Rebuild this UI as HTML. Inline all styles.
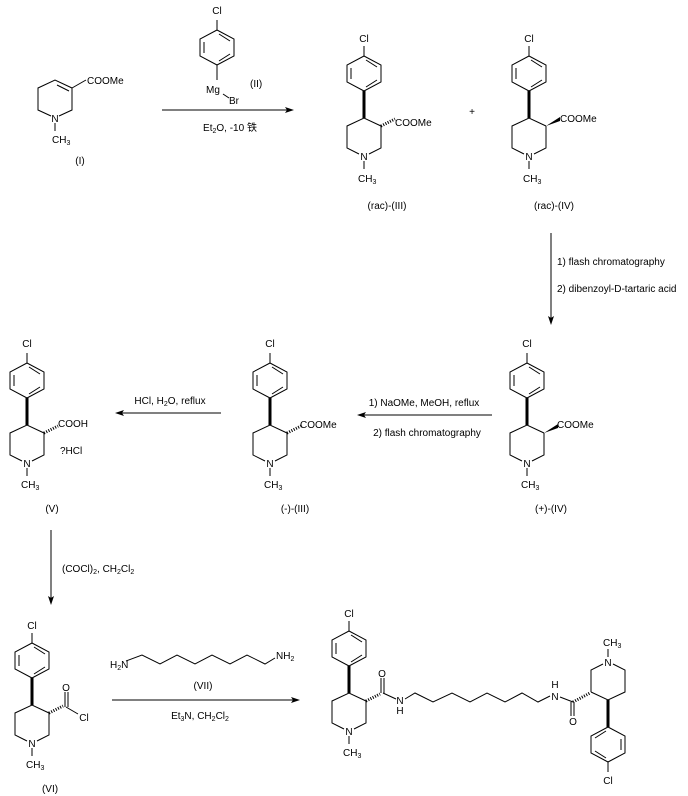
<!DOCTYPE html>
<html><head><meta charset="utf-8"><style>
html,body{margin:0;padding:0;background:#fff;}
svg{display:block;}
text{font-family:"Liberation Sans","Noto Sans CJK SC",sans-serif;font-size:10px;fill:#000;}
.c{text-anchor:middle;}
</style></head><body>
<svg width="688" height="796" viewBox="0 0 688 796" xmlns="http://www.w3.org/2000/svg">
<defs>
<g id="bz" stroke="#000" fill="none" stroke-width="1">
<polygon points="0,-62 17,-53 17,-36 0,-27 -17,-36 -17,-53"/>
<line x1="-13" y1="-50" x2="-13" y2="-39"/>
<line x1="2" y1="-58" x2="13" y2="-51"/>
<line x1="2" y1="-31" x2="13" y2="-38"/>
<line x1="0" y1="-62" x2="0" y2="-72"/>
</g>
<g id="ap" stroke="#000" fill="none" stroke-width="1">
<use href="#bz"/>
<line x1="0" y1="-27" x2="0" y2="0" stroke-width="3"/>
<polyline points="17,8 0,0 -17,8 -17,30 -5,36"/>
<polyline points="17,8 17,30 5,36"/>
<line x1="0" y1="43" x2="0" y2="51"/>
</g>
<g id="hash" stroke="#000" stroke-width="3" stroke-dasharray="1,1.5"><line x1="0" y1="0" x2="14" y2="-7"/></g>
<polygon id="wedge" points="0,0 14,-9 14,-5" fill="#000"/>
</defs>

<!-- (I) -->
<g stroke="#000" fill="none">
<polyline points="51,116 38,110 38,88 55,80 72,88 72,110 59,116"/>
<line x1="57" y1="85" x2="69" y2="91"/>
<line x1="72" y1="88" x2="86" y2="80"/>
<line x1="55" y1="123" x2="55" y2="131"/>
</g>
<text x="87" y="84">COOMe</text>
<text class="c" x="55" y="122">N</text>
<text x="52" y="143">CH<tspan font-size="7" dy="2">3</tspan></text>
<text class="c" x="80" y="164">(I)</text>

<!-- (II) -->
<use href="#bz" transform="translate(217,92)"/>
<g stroke="#000"><line x1="217" y1="65" x2="217" y2="80"/><line x1="223" y1="94" x2="229" y2="98"/></g>
<text class="c" x="217" y="14">Cl</text>
<text class="c" x="213" y="93">Mg</text>
<text x="229" y="104">Br</text>
<text x="250" y="87">(II)</text>
<line x1="162" y1="110" x2="290" y2="110" stroke="#000"/>
<polygon points="294,110 285,107 287,110 285,113" fill="#000"/>
<text class="c" x="230" y="131">Et<tspan font-size="7" dy="2">2</tspan><tspan dy="-2">O, -10 铁</tspan></text>

<!-- rac III -->
<use href="#ap" transform="translate(364,118)"/>
<use href="#hash" transform="translate(381,126)"/>
<text class="c" x="364" y="42">Cl</text>
<text x="395" y="126">COOMe</text>
<text class="c" x="364" y="160">N</text>
<text x="358" y="182">CH<tspan font-size="7" dy="2">3</tspan></text>
<text class="c" x="387" y="209">(rac)-(III)</text>
<text class="c" x="472" y="115">+</text>

<!-- rac IV -->
<use href="#ap" transform="translate(529,118)"/>
<use href="#wedge" transform="translate(546,126)"/>
<text class="c" x="529" y="42">Cl</text>
<text x="560" y="122">COOMe</text>
<text class="c" x="529" y="160">N</text>
<text x="523" y="182">CH<tspan font-size="7" dy="2">3</tspan></text>
<text class="c" x="554" y="209">(rac)-(IV)</text>

<!-- vertical arrow 1 -->
<line x1="551" y1="233" x2="551" y2="321" stroke="#000"/>
<polygon points="551,325 548,316 551,318 554,316" fill="#000"/>
<text x="557" y="265">1) flash chromatography</text>
<text x="557" y="292">2) dibenzoyl-D-tartaric acid</text>

<!-- (+)-(IV) -->
<use href="#ap" transform="translate(527,425)"/>
<use href="#wedge" transform="translate(544,433)"/>
<text class="c" x="527" y="347">Cl</text>
<text x="557" y="428">COOMe</text>
<text class="c" x="527" y="467">N</text>
<text x="521" y="488">CH<tspan font-size="7" dy="2">3</tspan></text>
<text class="c" x="551" y="512">(+)-(IV)</text>

<!-- arrow 2 -->
<line x1="492" y1="415" x2="361" y2="415" stroke="#000"/>
<polygon points="357,415 366,412 364,415 366,418" fill="#000"/>
<text class="c" x="424" y="406">1) NaOMe, MeOH, reflux</text>
<text class="c" x="427" y="436">2) flash chromatography</text>

<!-- (-)-(III) -->
<use href="#ap" transform="translate(270,425)"/>
<use href="#hash" transform="translate(287,433)"/>
<text class="c" x="270" y="347">Cl</text>
<text x="300" y="428">COOMe</text>
<text class="c" x="270" y="467">N</text>
<text x="264" y="488">CH<tspan font-size="7" dy="2">3</tspan></text>
<text class="c" x="295" y="512">(-)-(III)</text>

<!-- arrow 3 -->
<line x1="221" y1="413" x2="119" y2="413" stroke="#000"/>
<polygon points="115,413 124,410 122,413 124,416" fill="#000"/>
<text class="c" x="170" y="404">HCl, H<tspan font-size="7" dy="2">2</tspan><tspan dy="-2">O, reflux</tspan></text>

<!-- (V) -->
<use href="#ap" transform="translate(27,425)"/>
<use href="#hash" transform="translate(44,433)"/>
<text class="c" x="27" y="347">Cl</text>
<text x="58" y="427">COOH</text>
<text x="60" y="454">?HCl</text>
<text class="c" x="27" y="467">N</text>
<text x="21" y="488">CH<tspan font-size="7" dy="2">3</tspan></text>
<text class="c" x="52" y="512">(V)</text>

<!-- vertical arrow 4 -->
<line x1="51" y1="530" x2="51" y2="601" stroke="#000"/>
<polygon points="51,605 48,596 51,598 54,596" fill="#000"/>
<text x="62" y="572">(COCl)<tspan font-size="7" dy="2">2</tspan><tspan dy="-2">, CH</tspan><tspan font-size="7" dy="2">2</tspan><tspan dy="-2">Cl</tspan><tspan font-size="7" dy="2">2</tspan></text>

<!-- (VI) -->
<use href="#ap" transform="translate(32,705)"/>
<use href="#hash" transform="translate(49,713)"/>
<g stroke="#000"><line x1="65" y1="707" x2="65" y2="692"/><line x1="68" y1="707" x2="68" y2="692"/><line x1="66" y1="707" x2="78" y2="714"/></g>
<text class="c" x="66" y="691">O</text>
<text class="c" x="84" y="721">Cl</text>
<text class="c" x="32" y="629">Cl</text>
<text class="c" x="32" y="747">N</text>
<text x="26" y="768">CH<tspan font-size="7" dy="2">3</tspan></text>
<text class="c" x="50" y="792">(VI)</text>

<!-- (VII) diamine -->
<polyline points="126,661 142,655 160,664 177,655 195,664 212,655 230,664 247,655 265,664 275,658" fill="none" stroke="#000"/>
<text x="110" y="668">H<tspan font-size="7" dy="2">2</tspan><tspan dy="-2">N</tspan></text>
<text x="276" y="659">NH<tspan font-size="7" dy="2">2</tspan></text>
<text class="c" x="203" y="689">(VII)</text>
<line x1="112" y1="700" x2="296" y2="700" stroke="#000"/>
<polygon points="300,700 291,697 293,700 291,703" fill="#000"/>
<text class="c" x="200" y="719">Et<tspan font-size="7" dy="2">3</tspan><tspan dy="-2">N, CH</tspan><tspan font-size="7" dy="2">2</tspan><tspan dy="-2">Cl</tspan><tspan font-size="7" dy="2">2</tspan></text>

<!-- final product -->
<use href="#ap" transform="translate(349,693)"/>
<use href="#hash" transform="translate(366,701)"/>
<g stroke="#000" fill="none">
<line x1="381" y1="693" x2="381" y2="678"/><line x1="384" y1="693" x2="384" y2="678"/>
<line x1="383" y1="693" x2="396" y2="699"/>
<polyline points="405,699 415,693 433,702 452,693 470,702 487,693 505,702 522,693 538,702 550,696"/>
<line x1="560" y1="697" x2="573" y2="702"/>
<line x1="571" y1="702" x2="571" y2="716"/><line x1="574" y1="702" x2="574" y2="716"/>
</g>
<g stroke="#000" stroke-width="3" stroke-dasharray="1,1.5"><line x1="573" y1="702" x2="590" y2="693"/></g>
<text class="c" x="382" y="677">O</text>
<text class="c" x="400" y="704">N</text>
<text class="c" x="400" y="714">H</text>
<text class="c" x="555" y="700">N</text>
<text class="c" x="555" y="688">H</text>
<text class="c" x="573" y="725">O</text>
<text class="c" x="349" y="617">Cl</text>
<text class="c" x="349" y="735">N</text>
<text x="343" y="756">CH<tspan font-size="7" dy="2">3</tspan></text>
<use href="#ap" transform="translate(608,700) rotate(180)"/>
<text class="c" x="608" y="666">N</text>
<text x="603" y="646">CH<tspan font-size="7" dy="2">3</tspan></text>
<text class="c" x="608" y="784">Cl</text>
</svg>
</body></html>
